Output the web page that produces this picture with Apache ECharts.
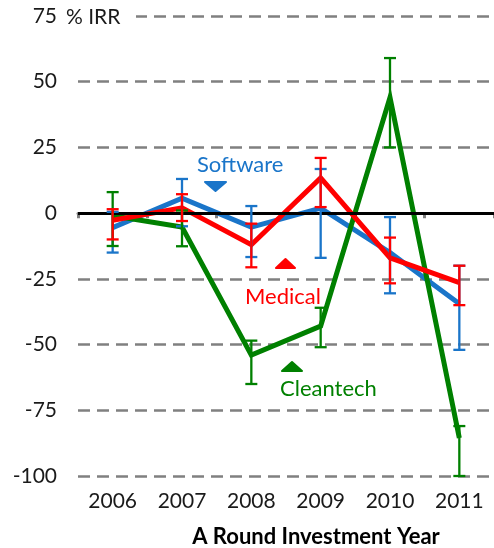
<!DOCTYPE html>
<html><head><meta charset="utf-8">
<script src="https://cdn.jsdelivr.net/npm/echarts@6/dist/echarts.min.js"></script>
<style>html,body{margin:0;padding:0;background:#fff}#c{width:494px;height:548px}</style>
</head><body><div id="c"></div>
<script>
const years = ['2006','2007','2008','2009','2010','2011'];
const softwareIRR  = [-5.5, 5.7, -5.3, 1.9, -15, -34.5];
const softwareLow  = [-15, -5, -16.7, -17, -30.5, -52];
const softwareHigh = [0.5, 13, 2.7, 16.8, -1.5, -20];
const medicalIRR   = [-2.7, 2, -12, 13.4, -17, -26.4];
const medicalLow   = [-10, -3, -20.6, 2.3, -26.7, -35];
const medicalHigh  = [1.5, 7.2, -4, 21, -9.3, -20];
const cleantechIRR  = [-1, -5.3, -54, -43, 44, -85.5];
const cleantechLow  = [-12.5, -12.6, -65, -51, 25, -100];
const cleantechHigh = [8, 1, -48.5, -36, 59, -81];
const yTicks = [-100, -75, -50, -25, 0, 25, 50, 75];

const BLUE = '#1a75c9', RED = '#ff0000', GREEN = '#008000';
const FONT = 'Lato, "Open Sans", sans-serif';

function errSeries(name, low, high, color, z) {
  return {
    type: 'custom', name: name, z: z, silent: true,
    data: years.map((y, i) => [i, low[i], high[i]]),
    renderItem: function (params, api) {
      const lo = api.coord([api.value(0), api.value(1)]);
      const hi = api.coord([api.value(0), api.value(2)]);
      const w = 6;
      const st = { stroke: color, lineWidth: 2.3 };
      return { type: 'group', children: [
        { type: 'line', shape: { x1: lo[0], y1: lo[1], x2: hi[0], y2: hi[1] }, style: st },
        { type: 'line', shape: { x1: lo[0]-w, y1: lo[1], x2: lo[0]+w, y2: lo[1] }, style: st },
        { type: 'line', shape: { x1: hi[0]-w, y1: hi[1], x2: hi[0]+w, y2: hi[1] }, style: st }
      ]};
    }
  };
}
function lineSeries(name, vals, color, z) {
  return { type: 'line', name: name, data: vals, z: z, symbol: 'none', silent: true,
    lineStyle: { color: color, width: 5, join: 'miter' } };
}

const chart = echarts.init(document.getElementById('c'), null, { renderer: 'canvas' });
chart.setOption({
  animation: false,
  grid: { left: 78, right: -9, top: 16, bottom: 72 },
  xAxis: {
    type: 'category', data: years, boundaryGap: true,
    axisLine: { lineStyle: { color: '#808080', width: 3 } },
    axisTick: { show: true, length: 5, lineStyle: { color: '#808080', width: 3 } },
    axisLabel: { color: '#1a1a1a', fontSize: 21, fontFamily: FONT, margin: 15 },
    splitLine: { show: false }
  },
  yAxis: {
    type: 'value', min: -100, max: 75, interval: 25,
    axisLine: { show: false }, axisTick: { show: false },
    axisLabel: { color: '#1a1a1a', fontSize: 21, fontFamily: FONT, margin: 21,
      formatter: v => yTicks.includes(v) ? String(v) : '' },
    splitLine: { lineStyle: { color: '#808080', width: 2.5, type: [12, 7] } }
  },
  series: [
    lineSeries('Software', softwareIRR, BLUE, 2),
    lineSeries('Cleantech', cleantechIRR, GREEN, 3),
    lineSeries('Medical', medicalIRR, RED, 4),
    errSeries('SoftwareErr', softwareLow, softwareHigh, BLUE, 5),
    errSeries('CleantechErr', cleantechLow, cleantechHigh, GREEN, 5),
    errSeries('MedicalErr', medicalLow, medicalHigh, RED, 6),
    { type: 'line', data: [], z: 10, silent: true,
      markLine: { silent: true, symbol: ['none','none'], label: { show: false },
        lineStyle: { color: '#000', width: 3, type: 'solid' },
        data: [{ yAxis: 0 }] } }
  ],
  graphic: [
    { type: 'rect', z: 20, shape: { x: 60, y: 11, width: 76, height: 10 }, style: { fill: '#fff' } },
    { type: 'text', z: 21, style: { text: '% IRR', x: 66, y: 17, verticalAlign: 'middle',
        font: '21px ' + FONT, fill: '#1a1a1a' } },
    { type: 'text', z: 21, style: { text: 'Software', x: 197, y: 165, verticalAlign: 'middle',
        font: '22px ' + FONT, fill: BLUE } },
    { type: 'polygon', z: 21, shape: { points: [[205,182],[226,182],[215.5,191]] }, style: { fill: BLUE, stroke: BLUE, lineWidth: 2, lineJoin: 'round' } },
    { type: 'text', z: 21, style: { text: 'Medical', x: 245, y: 297, verticalAlign: 'middle',
        font: '22px ' + FONT, fill: RED } },
    { type: 'polygon', z: 21, shape: { points: [[276,268],[295,268],[285.5,259]] }, style: { fill: RED, stroke: RED, lineWidth: 2, lineJoin: 'round' } },
    { type: 'text', z: 21, style: { text: 'Cleantech', x: 280, y: 389, verticalAlign: 'middle',
        font: '22px ' + FONT, fill: GREEN } },
    { type: 'polygon', z: 21, shape: { points: [[282,371],[302,371],[292,362]] }, style: { fill: GREEN, stroke: GREEN, lineWidth: 2, lineJoin: 'round' } },
    { type: 'text', z: 21, style: { text: 'A Round Investment Year', x: 316, y: 537, align: 'center', verticalAlign: 'middle',
        font: 'bold 22px ' + FONT, fill: '#000' } }
  ]
});
</script></body></html>
